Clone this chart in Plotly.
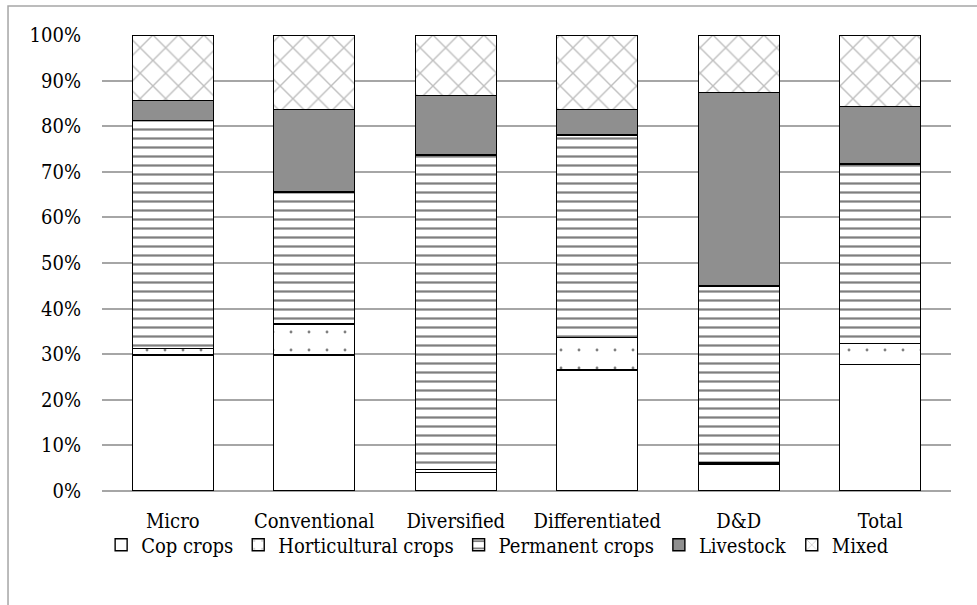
import plotly.graph_objects as go

categories = ["Micro", "Conventional", "Diversified", "Differentiated", "D&D", "Total"]
cop_crops = [29.8, 29.8, 4.0, 26.5, 5.9, 27.8]
horticultural_crops = [1.5, 6.8, 0.7, 7.2, 0.4, 4.6]
permanent_crops = [49.9, 29.0, 69.0, 44.4, 38.7, 39.3]
livestock = [4.5, 18.0, 13.0, 5.5, 42.4, 12.6]
mixed = [14.3, 16.4, 13.3, 16.4, 12.6, 15.7]
y_ticks = [0, 10, 20, 30, 40, 50, 60, 70, 80, 90, 100]
y_tick_labels = ["0%", "10%", "20%", "30%", "40%", "50%", "60%", "70%", "80%", "90%", "100%"]

FONT = "DejaVu Serif Condensed, Liberation Serif, serif"
line = dict(color="black", width=1.4)

fig = go.Figure()
fig.add_bar(name="Cop crops", x=categories, y=cop_crops,
            marker=dict(color="white", line=line))
fig.add_bar(name="Horticultural crops", x=categories, y=horticultural_crops,
            marker=dict(color="white", line=line,
                        pattern=dict(shape=".", fgcolor="black", bgcolor="white",
                                     size=18, solidity=0.02)))
fig.add_bar(name="Permanent crops", x=categories, y=permanent_crops,
            marker=dict(color="white", line=line,
                        pattern=dict(shape="-", fgcolor="black", bgcolor="white",
                                     size=9, solidity=0.25)))
fig.add_bar(name="Livestock", x=categories, y=livestock,
            marker=dict(color="#8f8f8f", line=line))
fig.add_bar(name="Mixed", x=categories, y=mixed,
            marker=dict(color="white", line=line,
                        pattern=dict(shape="x", fgcolor="#808080", bgcolor="white",
                                     size=18, solidity=0.15)))

fig.update_layout(
    barmode="stack",
    barnorm="percent",
    bargap=0.428,
    width=977, height=605,
    margin=dict(l=102, r=26, t=35, b=114),
    paper_bgcolor="white",
    plot_bgcolor="white",
    font=dict(family=FONT, size=20, color="black"),
    showlegend=True,
    legend=dict(orientation="h", x=0.466, xanchor="center", y=-0.118, yanchor="middle",
                font=dict(family=FONT, size=20, color="black"),
                traceorder="normal", itemwidth=30, bgcolor="rgba(0,0,0,0)"),
    xaxis=dict(showgrid=False, showline=False, ticks="", ticklabelstandoff=16,
               tickfont=dict(family=FONT, size=20)),
    yaxis=dict(range=[0, 100], tickmode="array", tickvals=y_ticks, ticktext=y_tick_labels,
               showgrid=True, gridcolor="#a6a6a6", gridwidth=1.6,
               zeroline=True, zerolinecolor="#a6a6a6", zerolinewidth=1.6,
               showline=False, ticks="", ticklabelstandoff=20,
               tickfont=dict(family=FONT, size=20)),
    shapes=[dict(type="rect", xref="paper", yref="paper",
                 x0=-0.1107, x1=1.05, y0=-0.27, y1=1.0636,
                 line=dict(color="#a6a6a6", width=1.5), fillcolor="rgba(0,0,0,0)",
                 layer="below")],
)

fig.write_html("out.html", config={"displayModeBar": False},
               post_script="document.body.style.margin='0px';")
